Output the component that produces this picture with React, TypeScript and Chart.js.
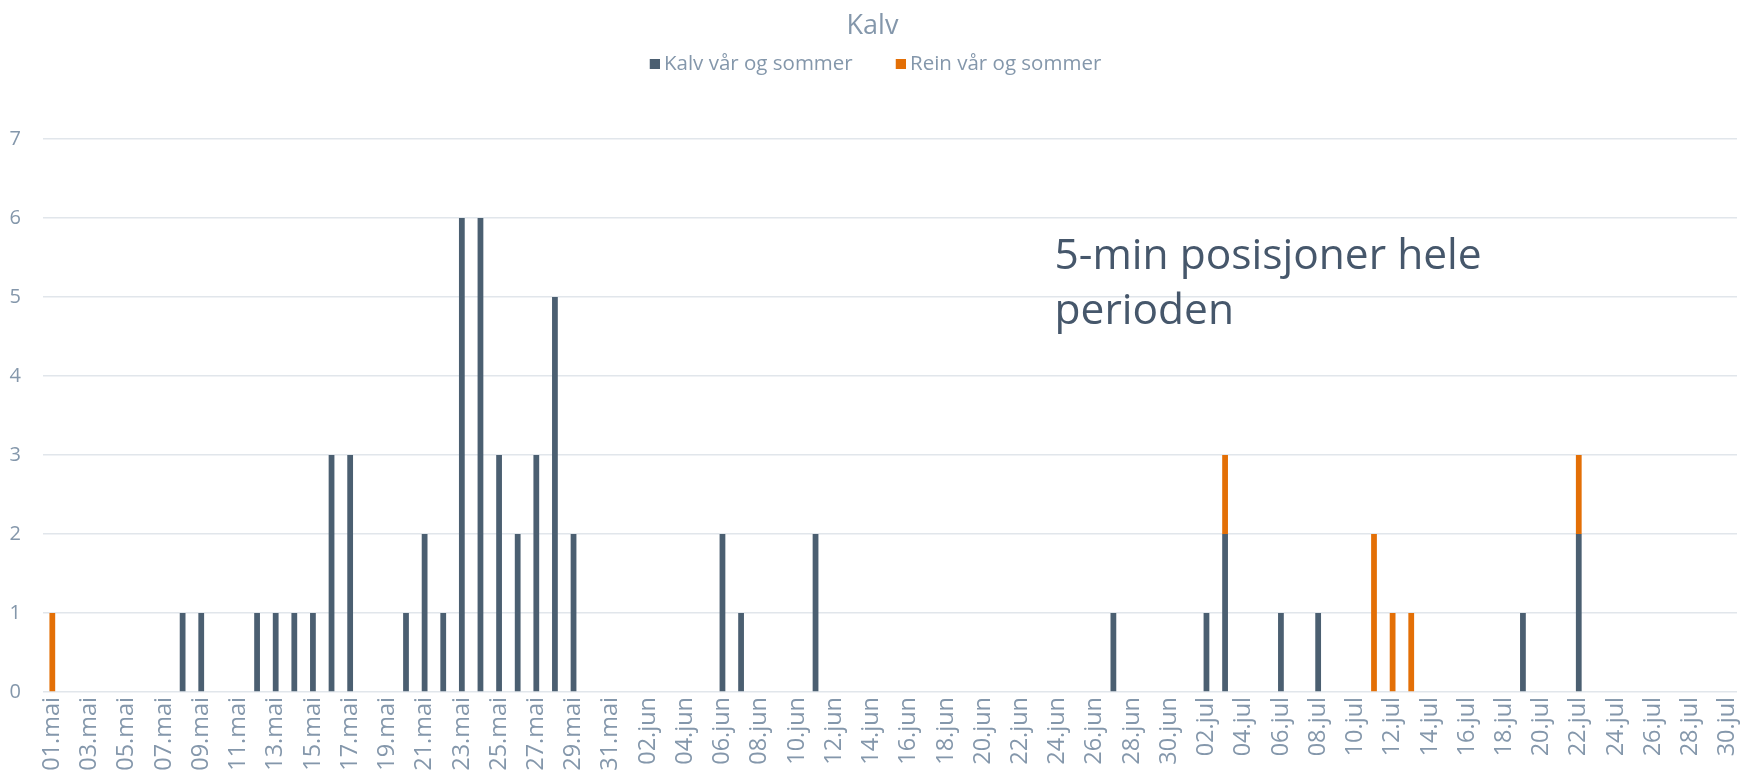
import React, { useEffect, useRef } from "react";
import { Chart, registerables } from "chart.js";

Chart.register(...registerables);

// ---------- data ----------
const MONTHS: [string, number][] = [
  ["mai", 31],
  ["jun", 30],
  ["jul", 30],
];

const CATEGORIES: string[] = MONTHS.flatMap(([m, n]) =>
  Array.from({ length: n }, (_, i) => `${String(i + 1).padStart(2, "0")}.${m}`)
);

// Kalv vår og sommer (per day)
const KALV_MAI = [0, 0, 0, 0, 0, 0, 0, 1, 1, 0, 0, 1, 1, 1, 1, 3, 3, 0, 0, 1, 2, 1, 6, 6, 3, 2, 3, 5, 2, 0, 0];
const KALV_JUN = [0, 0, 0, 0, 0, 2, 1, 0, 0, 0, 2, 0, 0, 0, 0, 0, 0, 0, 0, 0, 0, 0, 0, 0, 0, 0, 1, 0, 0, 0];
const KALV_JUL = [0, 1, 2, 0, 0, 1, 0, 1, 0, 0, 0, 0, 0, 0, 0, 0, 0, 0, 1, 0, 0, 2, 0, 0, 0, 0, 0, 0, 0, 0];

// Rein vår og sommer (per day)
const REIN_MAI = [1, 0, 0, 0, 0, 0, 0, 0, 0, 0, 0, 0, 0, 0, 0, 0, 0, 0, 0, 0, 0, 0, 0, 0, 0, 0, 0, 0, 0, 0, 0];
const REIN_JUN = [0, 0, 0, 0, 0, 0, 0, 0, 0, 0, 0, 0, 0, 0, 0, 0, 0, 0, 0, 0, 0, 0, 0, 0, 0, 0, 0, 0, 0, 0];
const REIN_JUL = [0, 0, 1, 0, 0, 0, 0, 0, 0, 0, 2, 1, 1, 0, 0, 0, 0, 0, 0, 0, 0, 1, 0, 0, 0, 0, 0, 0, 0, 0];

const KALV = [...KALV_MAI, ...KALV_JUN, ...KALV_JUL];
const REIN = [...REIN_MAI, ...REIN_JUN, ...REIN_JUL];

const SERIES_NAMES = ["Kalv vår og sommer", "Rein vår og sommer"];
const TITLE = "Kalv";
const Y_TICKS = [0, 1, 2, 3, 4, 5, 6, 7];

const NOTE_LINES = ["5-min posisjoner hele", "perioden"];
const NOTE_ANCHOR = "24.jun";
const NOTE_Y = [5.35, 4.66];

// ---------- style ----------
const FONT = '"Open Sans", "Noto Sans", sans-serif';
const DARK = "#4B5F71";
const ORANGE = "#E36F06";
const COLORS = [DARK, ORANGE];
const LABEL = "#8497AB";
const GRID = "#E1E6EB";
const NOTE_COLOR = "#46576B";

function makeSwatch(color: string): HTMLCanvasElement {
  // 10x10 square placed at the right of a 22px wide image (keeps text close to the box)
  const c = document.createElement("canvas");
  c.width = 22;
  c.height = 10;
  const g = c.getContext("2d")!;
  g.fillStyle = color;
  g.fillRect(12, 0, 10, 10);
  return c;
}

const notePlugin = {
  id: "note",
  afterDatasetsDraw(chart: any) {
    const { ctx, scales } = chart;
    const x = scales.x.getPixelForValue(CATEGORIES.indexOf(NOTE_ANCHOR)) - 3;
    ctx.save();
    ctx.font = `42.5px ${FONT}`;
    ctx.fillStyle = NOTE_COLOR;
    ctx.textAlign = "left";
    ctx.textBaseline = "alphabetic";
    NOTE_LINES.forEach((line, i) => {
      ctx.fillText(line, x, scales.y.getPixelForValue(NOTE_Y[i]));
    });
    ctx.restore();
  },
};

export default function App() {
  const ref = useRef<HTMLCanvasElement>(null);

  useEffect(() => {
    document.body.style.margin = "0";
    document.body.style.overflow = "hidden";
    const swatches = COLORS.map(makeSwatch);
    const chart = new Chart(ref.current!, {
      type: "bar",
      data: {
        labels: CATEGORIES,
        datasets: [
          {
            label: SERIES_NAMES[0],
            data: KALV,
            backgroundColor: DARK,
            barPercentage: 0.31,
            categoryPercentage: 1,
          },
          {
            label: SERIES_NAMES[1],
            data: REIN,
            backgroundColor: ORANGE,
            barPercentage: 0.31,
            categoryPercentage: 1,
          },
        ],
      },
      options: {
        responsive: false,
        animation: false,
        devicePixelRatio: 1,
        layout: { padding: { left: 8, right: 4, top: 0, bottom: 0 } },
        plugins: {
          tooltip: { enabled: false },
          title: {
            display: true,
            text: TITLE,
            color: LABEL,
            font: { family: FONT, size: 27, weight: "normal", lineHeight: 1.2 },
            padding: { top: 10.5, bottom: -25.9 },
          },
          legend: {
            display: true,
            position: "top",
            weight: 1000,
            labels: {
              color: LABEL,
              font: { family: FONT, size: 20.5 },
              usePointStyle: true,
              pointStyleWidth: 10,
              boxWidth: 10,
              boxHeight: 10,
              padding: 37,
              generateLabels: (c: any) =>
                (Chart as any).defaults.plugins.legend.labels
                  .generateLabels(c)
                  .map((item: any, i: number) => ({ ...item, pointStyle: swatches[i] })),
            },
          },
          subtitle: {
            display: true,
            text: "",
            weight: 500,
            color: "rgba(0,0,0,0)",
            font: { size: 10, lineHeight: 1.2 },
            padding: { top: 42.5, bottom: 0 },
          },
        } as any,
        scales: {
          x: {
            stacked: true,
            grid: { display: false, drawTicks: false },
            border: { display: false },
            ticks: {
              autoSkip: false,
              minRotation: 90,
              maxRotation: 90,
              padding: 5,
              color: LABEL,
              font: { family: FONT, size: 23.5 },
              callback: (_v: any, i: number) => (i % 2 === 0 ? CATEGORIES[i] : ""),
            },
            afterFit: (s: any) => {
              s.height = 80;
              s.paddingLeft = 0;
              s.paddingRight = 0;
            },
          },
          y: {
            stacked: true,
            min: Y_TICKS[0],
            max: Y_TICKS[Y_TICKS.length - 1],
            grid: { color: GRID, lineWidth: 1.5, drawTicks: false },
            border: { display: false },
            ticks: {
              stepSize: 1,
              padding: 22,
              color: LABEL,
              font: { family: FONT, size: 20 },
            },
            afterFit: (s: any) => {
              s.width = 35;
              s.paddingTop = 0;
              s.paddingBottom = 0;
            },
          },
        },
      },
      plugins: [notePlugin],
    });
    return () => chart.destroy();
  }, []);

  return (
    <div style={{ position: "absolute", left: 0, top: 0, width: 1741, height: 772, background: "#fff" }}>
      <canvas ref={ref} width={1741} height={772} />
    </div>
  );
}
